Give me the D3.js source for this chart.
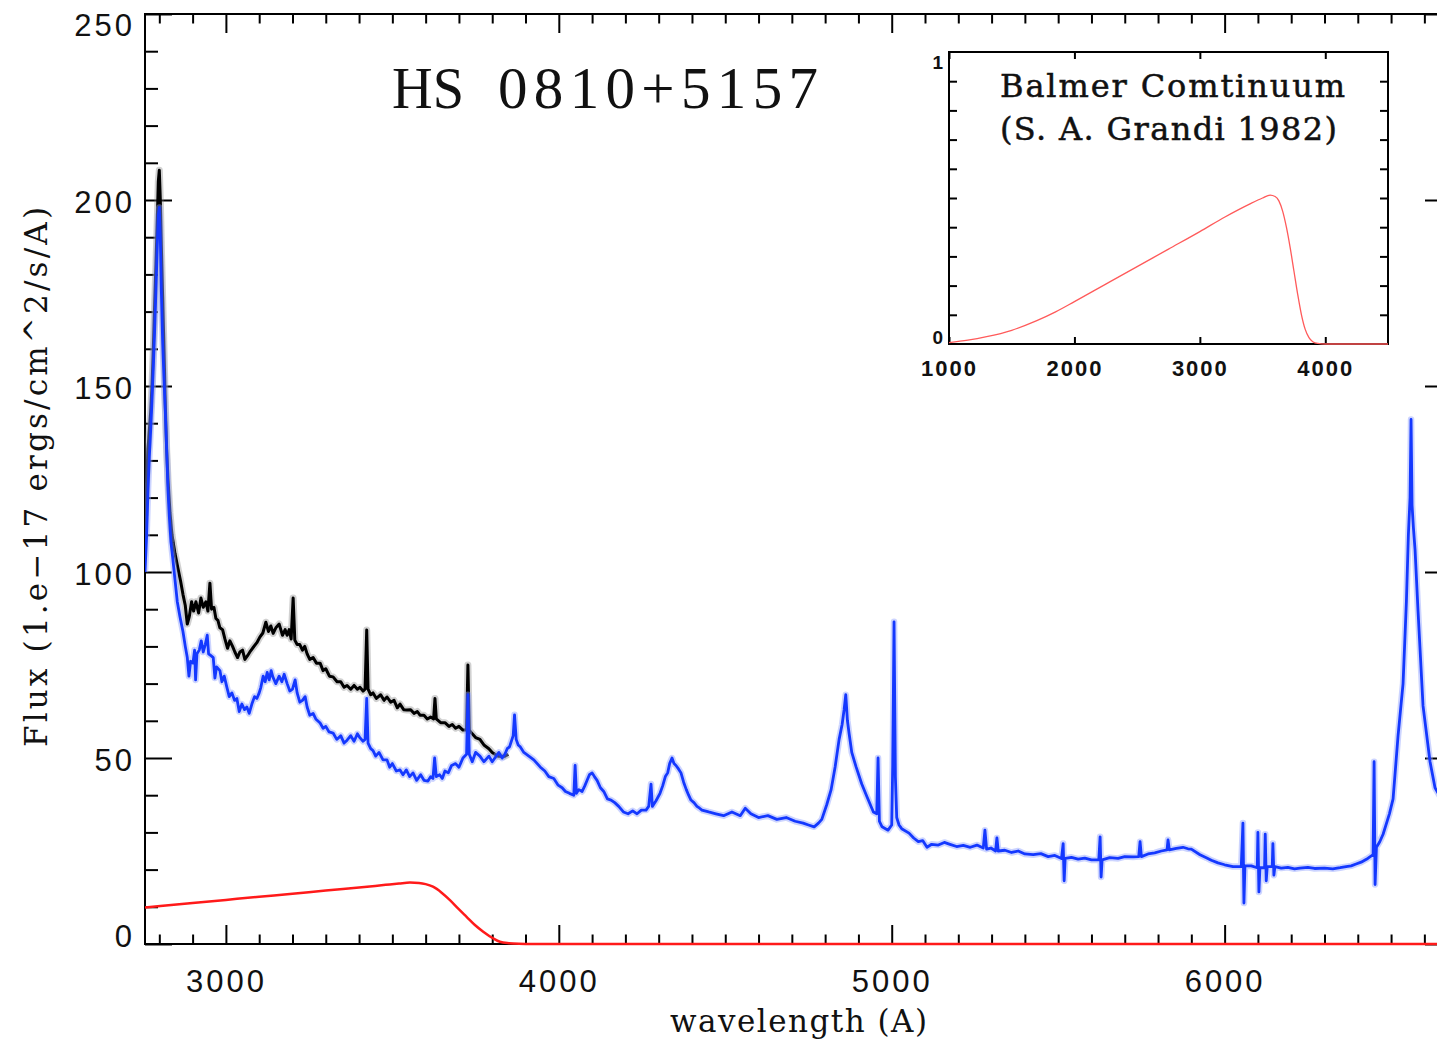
<!DOCTYPE html>
<html><head><meta charset="utf-8">
<script src="https://cdn.jsdelivr.net/npm/d3@7"></script>
<style>body{margin:0;background:#fff;} svg{display:block;}</style>
</head><body>
<svg id="c" width="1437" height="1043"></svg>
<script>
// ---------------- data (wavelength in Angstrom, flux in 1e-17 erg/cm^2/s/A) ----------------
const titleText = ["HS", "0810+5157"];
const xLabel = "wavelength (A)";
const yLabel = "Flux (1.e\u221217 ergs/cm^2/s/A)";
const insetText = ["Balmer Comtinuum", "(S. A. Grandi 1982)"];

const xTicksMain = [3000, 4000, 5000, 6000];
const yTicksMain = [0, 50, 100, 150, 200, 250];
const insetXTicks = [1000, 2000, 3000, 4000];
const insetYTicks = [0, 1];

const blackSpectrum = [[2757,115],[2762,125],[2766,133],[2770,138],[2774,143],[2778,150],[2782,160],[2786,172],[2790,183],[2794,195],[2797,205],[2800,208],[2803,200],[2806,188],[2810,174],[2814,160],[2818,145],[2822,133],[2826,125],[2832,116],[2838,110],[2847,105],[2856,101],[2864,97.5],[2871,94],[2878,91],[2884,86],[2890,88],[2897,92],[2903,89.5],[2910,92],[2918,89],[2925,93],[2932,90.5],[2940,92],[2946,89.5],[2952,97],[2957,90],[2964,90.5],[2970,87.5],[2976,87],[2982,85],[2990,84.5],[2997,82],[3005,79.5],[3012,81.5],[3020,80],[3027,78.5],[3035,77],[3042,78.5],[3050,79],[3057,76.5],[3065,77.5],[3072,78.5],[3080,79.5],[3093,81],[3102,82.5],[3111,83.6],[3120,86.5],[3128,84],[3135,85.5],[3142,83.5],[3150,85],[3160,86],[3170,83],[3178,84.5],[3184,83],[3190,84.5],[3196,82],[3202,93],[3207,81.7],[3214,80.5],[3222,80.5],[3230,79],[3237,80],[3244,78],[3252,76.5],[3262,77],[3272,75.5],[3283,75.5],[3292,73.5],[3300,74],[3311,72],[3322,71.8],[3334,70.5],[3345,70.5],[3355,69],[3364,69.5],[3375,68.5],[3385,69.5],[3395,68.5],[3403,69],[3412,68],[3418,68.5],[3423,84.4],[3427,68.5],[3435,67],[3442,67.5],[3452,66],[3465,67],[3475,65.5],[3484,66.4],[3495,65],[3505,65.5],[3515,63.5],[3523,64.5],[3534,63],[3544,62.9],[3555,63],[3565,62],[3575,62.5],[3583,61.5],[3595,61.5],[3605,60.5],[3615,61],[3624,60.5],[3628,66],[3632,60.5],[3645,59.5],[3658,59.5],[3670,58.5],[3680,59],[3690,58],[3700,58.5],[3712,57.5],[3723,57.5],[3727,75],[3731,57.5],[3740,56.5],[3750,55.5],[3763,55],[3775,53.5],[3790,52.5],[3800,51.5],[3808,51],[3818,50.5],[3828,50.5],[3838,50.5],[3848,51]];

const blueSpectrum = [[2757,100],[2762,110],[2766,122],[2770,131],[2774,138],[2778,146],[2782,155],[2786,165],[2790,176],[2794,188],[2797,196],[2800,198],[2803,190],[2806,176],[2810,162],[2814,152],[2818,143],[2822,133],[2826,122],[2830,115],[2835,108],[2840,104],[2847,98],[2854,92],[2862,88],[2871,84],[2878,80],[2884,77],[2889,72],[2894,76],[2901,75.5],[2906,79],[2909,71],[2913,78],[2920,79],[2926,81.5],[2932,78.5],[2938,80.5],[2944,83],[2948,78],[2955,77.5],[2962,77],[2967,71.5],[2972,74.5],[2982,73.5],[2988,70.5],[2995,72],[3003,69],[3010,66.5],[3018,67.5],[3026,65.5],[3033,66],[3040,62.5],[3048,64.5],[3056,63],[3063,63.7],[3070,62],[3078,64.5],[3086,66.5],[3093,66],[3100,67.5],[3105,69],[3112,72],[3118,70.5],[3124,73],[3130,71],[3136,73.5],[3141,71.8],[3150,70],[3160,72],[3168,70.5],[3175,72.5],[3184,70],[3192,68],[3200,68.5],[3208,71],[3214,67.5],[3222,65],[3230,65.5],[3238,66.5],[3244,63.7],[3252,61.5],[3262,62],[3270,60.5],[3283,59.4],[3292,58],[3300,58.5],[3310,57],[3322,56.7],[3333,55],[3345,56],[3355,54],[3364,54.8],[3375,56],[3385,54.5],[3395,56.5],[3403,55.4],[3412,54.5],[3418,55],[3423,66],[3427,54],[3435,52.5],[3442,52],[3450,50.5],[3460,51.5],[3472,49.5],[3484,49.5],[3492,47.5],[3500,48.5],[3512,46.5],[3523,46.8],[3532,45.5],[3542,46.8],[3552,45],[3562,46],[3573,44],[3585,45.5],[3595,44],[3607,43.8],[3615,45],[3622,44.5],[3627,50],[3632,45],[3642,45.5],[3650,44.5],[3658,46.5],[3668,46],[3678,48],[3690,48.5],[3700,47.5],[3712,50],[3723,51],[3727,67],[3731,51],[3740,49],[3750,51.5],[3763,50.5],[3775,49],[3790,50.5],[3800,49],[3808,50],[3820,51.5],[3830,50],[3838,51],[3845,52.5],[3852,53],[3863,56],[3867,61.6],[3872,55],[3878,53.5],[3884,53],[3895,51.5],[3910,50.5],[3925,49.5],[3944,47.6],[3958,46.5],[3970,45],[3985,44.5],[3998,42.7],[4010,42],[4020,41],[4032,40.5],[4045,40],[4049,48],[4053,40.5],[4060,41.5],[4070,41],[4078,42.5],[4085,44],[4092,45.5],[4100,46],[4107,45],[4115,44],[4125,42],[4135,41],[4146,39],[4157,38.7],[4168,38],[4180,37],[4194,35.5],[4208,35],[4222,35.8],[4235,35],[4248,36],[4262,36],[4270,37],[4277,43],[4281,37],[4292,38.5],[4304,40.5],[4312,42.5],[4320,45],[4327,46],[4333,48.5],[4340,50],[4346,48.5],[4352,48],[4360,47],[4367,46],[4375,43.5],[4383,41.5],[4390,40],[4397,38.7],[4406,38],[4415,37],[4423,36.5],[4430,36],[4450,35.5],[4472,35],[4495,34.5],[4520,35.5],[4545,34.5],[4560,36.5],[4577,35],[4600,34],[4628,34.5],[4655,33.5],[4683,34],[4710,33],[4734,32.5],[4750,32],[4767,31.5],[4780,32.5],[4790,33.5],[4805,37.5],[4818,41.5],[4830,47.6],[4842,55],[4851,59],[4857,63],[4862,67],[4867,60],[4872,56.6],[4880,51.5],[4893,47.6],[4910,43],[4926,39.5],[4945,35.5],[4955,35],[4959,50],[4963,33],[4971,31.5],[4989,30.6],[5000,32],[5003,48],[5007,86.6],[5011,45],[5015,34],[5022,32],[5030,31],[5052,29.8],[5066,28.5],[5080,27.5],[5093,27.8],[5106,26],[5120,26.8],[5140,26.6],[5158,27.3],[5175,26.8],[5195,26.2],[5215,26.5],[5236,26],[5256,26.6],[5275,25.8],[5280,30.6],[5285,25.5],[5298,25.8],[5312,25],[5316,28.5],[5320,25],[5340,25.2],[5360,24.6],[5380,25],[5400,24.2],[5425,24],[5448,24.3],[5470,23.5],[5490,23.8],[5510,23],[5515,27],[5518,17],[5521,23],[5540,23.3],[5560,22.8],[5580,23.1],[5600,22.6],[5622,22.6],[5626,28.8],[5629,18],[5632,22.6],[5655,23.2],[5680,23],[5700,23.5],[5725,23.4],[5742,23.5],[5746,27.5],[5750,23.5],[5770,24.2],[5790,24.5],[5810,25],[5827,25.3],[5830,28],[5834,25.3],[5855,25.7],[5875,26],[5890,25.6],[5900,25.5],[5926,24],[5945,23.2],[5960,22.5],[5980,21.8],[6000,21.3],[6025,20.8],[6050,20.8],[6055,32.5],[6058,11],[6061,21],[6080,21],[6098,20.5],[6100,30],[6103,14],[6106,20.5],[6120,20.5],[6122,29.5],[6125,17],[6128,20.8],[6143,20.8],[6145,27],[6148,18.5],[6151,20.8],[6170,20.4],[6190,20.6],[6210,20.2],[6226,20.4],[6250,20.6],[6270,20.3],[6300,20.4],[6325,20.2],[6347,20.5],[6365,20.8],[6380,21],[6395,21.5],[6410,22],[6430,23],[6446,24],[6449,49],[6452,16],[6456,26],[6466,27.5],[6476,29.5],[6495,35],[6506,39],[6521,56],[6536,70],[6546,92],[6552,110],[6557,120],[6560,141],[6563,118],[6567,112],[6572,106],[6581,89.5],[6596,64],[6617,49],[6632,42],[6645,40],[6660,38],[6683,36]];

const balmerMain = [[2757,9.8],[2900,11.0],[3000,11.85],[3100,12.7],[3200,13.5],[3300,14.4],[3400,15.2],[3480,15.9],[3520,16.25],[3553,16.5],[3580,16.4],[3600,16.1],[3622,15.4],[3648,13.8],[3673,11.8],[3698,9.5],[3723,7.3],[3748,5.1],[3773,3.3],[3803,1.5],[3823,0.6],[3850,0.2],[3880,0.05],[3920,0],[6683,0]];

const balmerInset = [[1000,0.005],[1150,0.013],[1300,0.025],[1500,0.047],[1700,0.08],[1850,0.11],[2000,0.145],[2250,0.205],[2500,0.265],[2750,0.325],[3000,0.385],[3200,0.435],[3400,0.48],[3500,0.5],[3560,0.51],[3600,0.505],[3630,0.49],[3660,0.455],[3690,0.4],[3720,0.33],[3750,0.25],[3780,0.17],[3810,0.1],[3840,0.05],[3870,0.022],[3900,0.008],[3940,0.002],[4000,0],[4500,0]];

// ---------------- layout ----------------
const svg = d3.select("#c");
const M = {l:145, t:14, r:1452, b:944};
const x = d3.scaleLinear().domain([2757, 6683]).range([M.l, M.r]);
const y = d3.scaleLinear().domain([0, 250]).range([M.b, M.t]);
const xMinor = d3.range(2800, 6700, 100).filter(v => v % 1000 !== 0);
const yMinor = d3.range(0, 251, 10).filter(v => v % 50 !== 0);

const sans = "'Liberation Sans', Arial, Helvetica, sans-serif";
const serif = "'DejaVu Serif', 'Liberation Serif', serif";

function ticks(g){ g.select(".domain").remove(); g.selectAll("line").attr("stroke","#000").attr("stroke-width",2); }

// main ticks (inward)
const axes = svg.append("g");
axes.append("g").attr("transform",`translate(0,${M.b})`).call(d3.axisBottom(x).tickValues(xTicksMain).tickSize(-19).tickFormat("")).call(ticks);
axes.append("g").attr("transform",`translate(0,${M.b})`).call(d3.axisBottom(x).tickValues(xMinor).tickSize(-9.5).tickFormat("")).call(ticks);
axes.append("g").attr("transform",`translate(0,${M.t})`).call(d3.axisTop(x).tickValues(xTicksMain).tickSize(-19).tickFormat("")).call(ticks);
axes.append("g").attr("transform",`translate(0,${M.t})`).call(d3.axisTop(x).tickValues(xMinor).tickSize(-9.5).tickFormat("")).call(ticks);
axes.append("g").attr("transform",`translate(${M.l},0)`).call(d3.axisLeft(y).tickValues(yTicksMain).tickSize(-27).tickFormat("")).call(ticks);
axes.append("g").attr("transform",`translate(${M.l},0)`).call(d3.axisLeft(y).tickValues(yMinor).tickSize(-13).tickFormat("")).call(ticks);
axes.append("g").attr("transform",`translate(${M.r},0)`).call(d3.axisRight(y).tickValues(yTicksMain).tickSize(-27).tickFormat("")).call(ticks);
axes.append("g").attr("transform",`translate(${M.r},0)`).call(d3.axisRight(y).tickValues(yMinor).tickSize(-13).tickFormat("")).call(ticks);

// tick labels
const xl = axes.append("g").attr("transform",`translate(0,${M.b})`)
  .call(d3.axisBottom(x).tickValues(xTicksMain).tickSize(0).tickPadding(26).tickFormat(d3.format("d")));
xl.select(".domain").remove();
xl.selectAll("text").attr("font-family",sans).attr("font-size",31).attr("letter-spacing","3px").attr("fill","#111");
const yl = axes.append("g").attr("transform",`translate(${M.l},0)`)
  .call(d3.axisLeft(y).tickValues(yTicksMain).tickSize(0).tickPadding(10).tickFormat(d3.format("d")));
yl.select(".domain").remove();
yl.selectAll("text").attr("font-family",sans).attr("font-size",31).attr("letter-spacing","3px").attr("fill","#111")
  .attr("y", d => d === 250 ? 12 : (d === 0 ? -7 : 3));

// frame
svg.append("rect").attr("x",M.l).attr("y",M.t).attr("width",M.r-M.l).attr("height",M.b-M.t)
  .attr("fill","none").attr("stroke","#000").attr("stroke-width",2);

// clip
svg.append("clipPath").attr("id","pc").append("rect").attr("x",M.l).attr("y",M.t).attr("width",M.r-M.l).attr("height",M.b-M.t+2);
const plot = svg.append("g").attr("clip-path","url(#pc)");
const line = d3.line().x(d => x(d[0])).y(d => y(d[1]));
const smooth = d3.line().x(d => x(d[0])).y(d => y(d[1])).curve(d3.curveMonotoneX);

// spectra
plot.append("path").datum(blackSpectrum).attr("d",line).attr("fill","none").attr("stroke","#7a7a7a").attr("stroke-opacity",0.35).attr("stroke-width",7).attr("stroke-linejoin","round");
plot.append("path").datum(blackSpectrum).attr("d",line).attr("fill","none").attr("stroke","#000").attr("stroke-width",3).attr("stroke-linejoin","round");
plot.append("path").datum(blueSpectrum).attr("d",line).attr("fill","none").attr("stroke","#8ea0ff").attr("stroke-opacity",0.45).attr("stroke-width",6.5).attr("stroke-linejoin","round");
plot.append("path").datum(blueSpectrum).attr("d",line).attr("fill","none").attr("stroke","#1438ff").attr("stroke-width",2.8).attr("stroke-linejoin","round");
plot.append("path").datum(balmerMain).attr("d",smooth).attr("fill","none").attr("stroke","#ff1a1a").attr("stroke-width",2.5);

// titles
svg.append("text").attr("x",392).attr("y",108).attr("font-family","'Liberation Serif', serif").attr("font-size",59)
  .attr("textLength",72).attr("lengthAdjust","spacingAndGlyphs").attr("fill","#111").text(titleText[0]);
svg.append("text").attr("x",498).attr("y",108).attr("font-family","'Liberation Serif', serif").attr("font-size",59)
  .attr("textLength",320).attr("lengthAdjust","spacing").attr("fill","#111").text(titleText[1]);
svg.append("text").attr("x",670).attr("y",1032).attr("font-family",serif).attr("font-size",31)
  .attr("textLength",257).attr("lengthAdjust","spacing").attr("fill","#111").text(xLabel);
svg.append("text").attr("transform","translate(47,747) rotate(-90)").attr("font-family",serif).attr("font-size",31)
  .attr("textLength",540).attr("lengthAdjust","spacing").attr("fill","#111").text(yLabel);

// ---------------- inset ----------------
const I = {l:949, t:52, r:1388, b:344};
const ix = d3.scaleLinear().domain([1000, 4500]).range([I.l, I.r]);
const iy = d3.scaleLinear().domain([0, 1]).range([I.b, I.t]);
const inset = svg.append("g");
inset.append("rect").attr("x",I.l).attr("y",I.t).attr("width",I.r-I.l).attr("height",I.b-I.t).attr("fill","#fff");
const iyMinor = d3.range(0.1, 0.95, 0.1);
inset.append("g").attr("transform",`translate(0,${I.b})`).call(d3.axisBottom(ix).tickValues(insetXTicks).tickSize(-7).tickFormat("")).call(ticks);
inset.append("g").attr("transform",`translate(0,${I.t})`).call(d3.axisTop(ix).tickValues(insetXTicks).tickSize(-7).tickFormat("")).call(ticks);
inset.append("g").attr("transform",`translate(${I.l},0)`).call(d3.axisLeft(iy).tickValues(iyMinor).tickSize(-8).tickFormat("")).call(ticks);
inset.append("g").attr("transform",`translate(${I.r},0)`).call(d3.axisRight(iy).tickValues(iyMinor).tickSize(-8).tickFormat("")).call(ticks);
const ixl = inset.append("g").attr("transform",`translate(0,${I.b})`)
  .call(d3.axisBottom(ix).tickValues(insetXTicks).tickSize(0).tickPadding(16).tickFormat(d3.format("d")));
ixl.select(".domain").remove();
ixl.selectAll("text").attr("font-family",sans).attr("font-size",22).attr("font-weight","bold").attr("letter-spacing","2px").attr("fill","#111");
const iyl = inset.append("g").attr("transform",`translate(${I.l},0)`)
  .call(d3.axisLeft(iy).tickValues(insetYTicks).tickSize(0).tickPadding(6).tickFormat(d3.format("d")));
iyl.select(".domain").remove();
iyl.selectAll("text").attr("font-family",sans).attr("font-size",19).attr("font-weight","bold").attr("fill","#111")
  .attr("dy",null).attr("y", d => d === 1 ? 16 : -1);
inset.append("rect").attr("x",I.l).attr("y",I.t).attr("width",I.r-I.l).attr("height",I.b-I.t)
  .attr("fill","none").attr("stroke","#000").attr("stroke-width",2);
const iline = d3.line().x(d => ix(d[0])).y(d => iy(d[1])).curve(d3.curveMonotoneX);
inset.append("path").datum(balmerInset).attr("d",iline).attr("fill","none").attr("stroke","#ff5a5a").attr("stroke-width",1.3);
inset.append("text").attr("x",1000).attr("y",97).attr("font-family",serif).attr("font-size",32)
  .attr("stroke","#111").attr("stroke-width",0.5)
  .attr("textLength",345).attr("lengthAdjust","spacing").attr("fill","#111").text(insetText[0]);
inset.append("text").attr("x",1000).attr("y",140).attr("font-family",serif).attr("font-size",32)
  .attr("stroke","#111").attr("stroke-width",0.5)
  .attr("textLength",337).attr("lengthAdjust","spacing").attr("fill","#111").text(insetText[1]);
</script>
</body></html>
